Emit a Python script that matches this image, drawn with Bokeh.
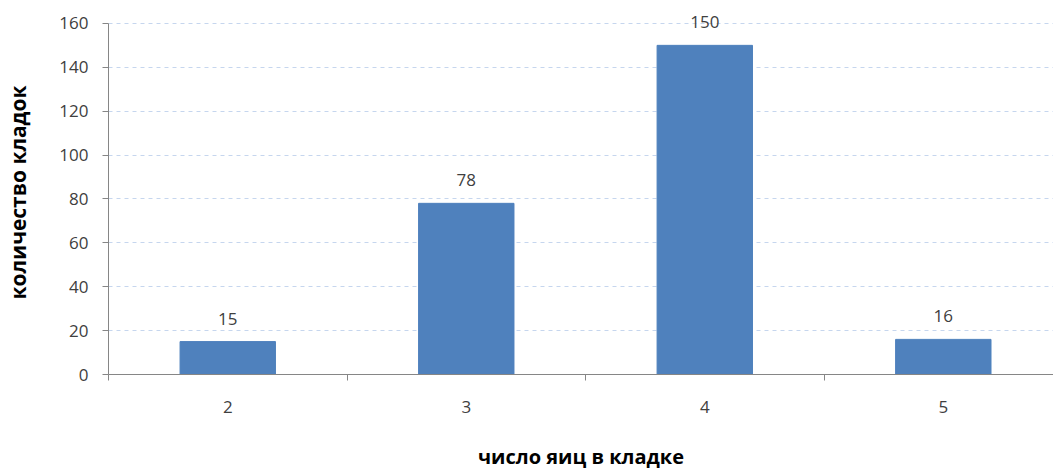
from bokeh.plotting import figure
from bokeh.models import ColumnDataSource, FixedTicker, Range1d, LabelSet
from bokeh.core.properties import value
from bokeh.embed import file_html
from bokeh.resources import INLINE

eggs = [2, 3, 4, 5]
clutches = [15, 78, 150, 16]
tick_labels = {2: "2", 3: "3", 4: "4", 5: "5"}
y_ticks = [0, 20, 40, 60, 80, 100, 120, 140, 160]

src = ColumnDataSource(dict(x=eggs, top=clutches, lbl=[str(v) for v in clutches]))

FONT = "Open Sans"
TXT = "#404040"

p = figure(width=1053, height=472, output_backend="svg", toolbar_location=None,
           x_range=Range1d(1.5, 5.462), y_range=Range1d(0, 165.88),
           min_border_left=108, min_border_right=0, min_border_top=10, min_border_bottom=95)
p.outline_line_color = None
p.background_fill_color = "white"
p.border_fill_color = "white"

p.vbar(x="x", top="top", width=0.4, bottom=0, source=src, fill_color="#4F81BD", line_color="#4F81BD")

labels = LabelSet(x="x", y="top", text="lbl", source=src, text_align="center", text_baseline="bottom",
                  y_offset=17, text_font=value(FONT), text_font_size="17px", text_color=TXT)
p.add_layout(labels)

# x axis
p.xaxis.ticker = FixedTicker(ticks=eggs, minor_ticks=[1.5, 2.5, 3.5, 4.5, 5.5])
p.xaxis.major_label_overrides = tick_labels
p.xaxis.major_tick_out = 0
p.xaxis.major_tick_in = 0
p.xaxis.minor_tick_out = 6
p.xaxis.minor_tick_in = 0
p.xaxis.minor_tick_line_color = "#868686"
p.xaxis.axis_line_color = "#868686"
p.xaxis.major_label_standoff = 20
p.xaxis.major_label_text_font = FONT
p.xaxis.major_label_text_font_size = "17px"
p.xaxis.major_label_text_color = TXT
p.xaxis.axis_label = "число яиц в кладке"
p.xaxis.axis_label_text_font = FONT
p.xaxis.axis_label_text_font_size = "20px"
p.xaxis.axis_label_text_font_style = "bold"
p.xaxis.axis_label_text_color = "#000000"
p.xaxis.axis_label_standoff = 27

# y axis
p.yaxis.ticker = FixedTicker(ticks=y_ticks, minor_ticks=[])
p.yaxis.bounds = (0, 160)
p.yaxis.major_tick_out = 6
p.yaxis.major_tick_in = 0
p.yaxis.major_tick_line_color = "#868686"
p.yaxis.axis_line_color = "#868686"
p.yaxis.major_label_standoff = 14
p.yaxis.major_label_text_font = FONT
p.yaxis.major_label_text_font_size = "17px"
p.yaxis.major_label_text_color = TXT
p.yaxis.axis_label = "количество кладок"
p.yaxis.axis_label_text_font = FONT
p.yaxis.axis_label_text_font_size = "21px"
p.yaxis.axis_label_text_font_style = "bold"
p.yaxis.axis_label_text_color = "#000000"
p.yaxis.axis_label_standoff = 24

p.xgrid.grid_line_color = None
p.ygrid.grid_line_color = "#C6D6EE"
p.ygrid.grid_line_dash = "4 4"
p.ygrid.grid_line_width = 1

open("out.html", "w").write(file_html(p, INLINE))
